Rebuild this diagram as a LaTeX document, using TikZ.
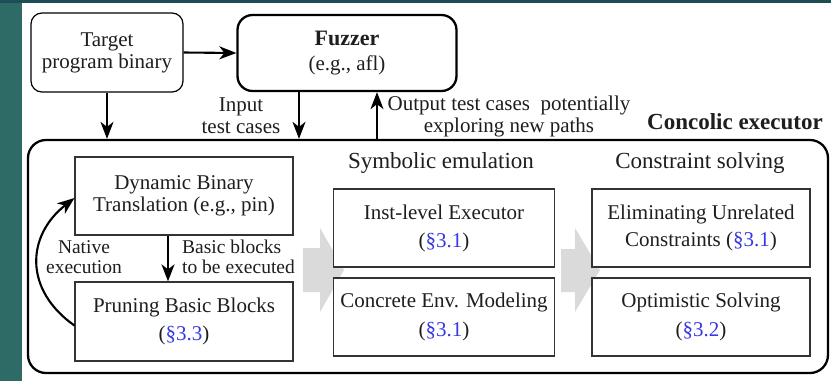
\documentclass[tikz,border=0pt]{standalone}
\usepackage{fontspec}
\setmainfont{Liberation Serif}
\usetikzlibrary{arrows.meta}
\definecolor{teal1}{RGB}{46,107,103}
\definecolor{teal2}{RGB}{30,78,85}
\definecolor{secblue}{RGB}{55,55,230}
\definecolor{greyarrow}{RGB}{218,218,218}
\definecolor{txt}{RGB}{30,30,30}
\newcommand{\secref}[1]{{\color{secblue}\S#1}}
\begin{document}
\begin{tikzpicture}[x=1pt,y=-1pt,
  font=\fontsize{21}{22}\selectfont,
  box/.style={draw=black!80, line width=1.2pt, fill=white, align=center, inner sep=0pt, text=txt,
    minimum width=218pt, minimum height=78pt},
  topbox/.style={draw=black, line width=1.2pt, rounded corners=11pt, align=center, inner sep=0pt, text=txt},
  arr/.style={line width=2.1pt, -{Stealth[length=17pt,width=13pt,inset=5pt]}},
  lbl/.style={align=center, inner sep=0pt, text=txt},
  smalllbl/.style={inner sep=0pt, text=txt, font=\fontsize{19.5}{20}\selectfont},
  head/.style={inner sep=0pt, text=txt, font=\fontsize{23}{24}\selectfont}
]
\useasboundingbox (0,0) rectangle (831,381);
\fill[white] (0,0) rectangle (831,381);
\fill[teal1] (0,0) rectangle (22,381);
\fill[teal2] (0,0) rectangle (831,2.5);

% grey flow arrows (behind boxes)
\fill[greyarrow] (303,248) -- (320,248) -- (320,228) -- (344,270) -- (320,312) -- (320,292) -- (303,292) -- cycle;
\fill[greyarrow] (561,249) -- (575,249) -- (575,228) -- (600,270) -- (575,312) -- (575,292) -- (561,292) -- cycle;

% top boxes
\node[topbox, minimum width=152pt, minimum height=79pt] (target) at (107,52.5)
  {Target\\program binary};
\node[topbox, line width=2.3pt, rounded corners=15pt, minimum width=219pt, minimum height=76pt] (fuzzer) at (347,53)
  {{\fontsize{22}{23}\selectfont\bfseries Fuzzer}\\[3pt](e.g., afl)};

% concolic executor frame
\node[draw=black, line width=2.3pt, rounded corners=18pt, minimum width=800pt, minimum height=233pt, inner sep=0pt] (conc) at (428,256.5) {};
\node[head, font=\fontsize{23}{24}\selectfont\bfseries, anchor=east] (conclbl) at (823,122) {Concolic executor};
\node[head] (symhead) at (441,163) {Symbolic emulation};
\node[head] (conhead) at (700,163) {Constraint solving};

% inner boxes
\node[box] (dbt) at (184,196) {Dynamic Binary\\Translation (e.g., pin)};
\node[box, minimum height=79pt] (prune) at (184,321.5) {Pruning Basic Blocks\\[6pt](\secref{3.3})};
\node[box, minimum width=221pt] (inst) at (444,228) {Inst-level Executor\\[6pt](\secref{3.1})};
\node[box, minimum width=221pt] (env) at (444,317) {Concrete Env. Modeling\\[7pt](\secref{3.1})};
\node[box] (elim) at (701,228) {Eliminating Unrelated\\[5pt]Constraints (\secref{3.1})};
\node[box] (opt) at (701,317) {Optimistic Solving\\[7pt](\secref{3.2})};

% connectors
\draw[arr] (target.east) -- (fuzzer.west);
\draw[arr] (target.south) -- (target.south |- conc.north);
\draw[arr] ([xshift=-48pt]fuzzer.south) -- ([xshift=-48pt]fuzzer.south |- conc.north);
\draw[arr] ([xshift=30pt]fuzzer.south |- conc.north) -- ([xshift=30pt]fuzzer.south);
\draw[arr] ([xshift=-16pt]dbt.south) -- ([xshift=-16pt]prune.north);
\draw[arr] ([yshift=-4pt]prune.west) .. controls (24,290) and (26,236) .. ([yshift=-2pt]dbt.west);

% labels
\node[lbl] (inlbl) at (241,116) {Input\\test cases};
\node[lbl, anchor=north] (outlbl) at (509,96)
  {Output test cases\ \ potentially\\exploring new paths};
\node[smalllbl, align=center] (natlbl) at (84,257) {Native\\execution};
\node[smalllbl, align=left, anchor=west] (bblbl) at (182,257) {Basic blocks\\to be executed};
\end{tikzpicture}
\end{document}
